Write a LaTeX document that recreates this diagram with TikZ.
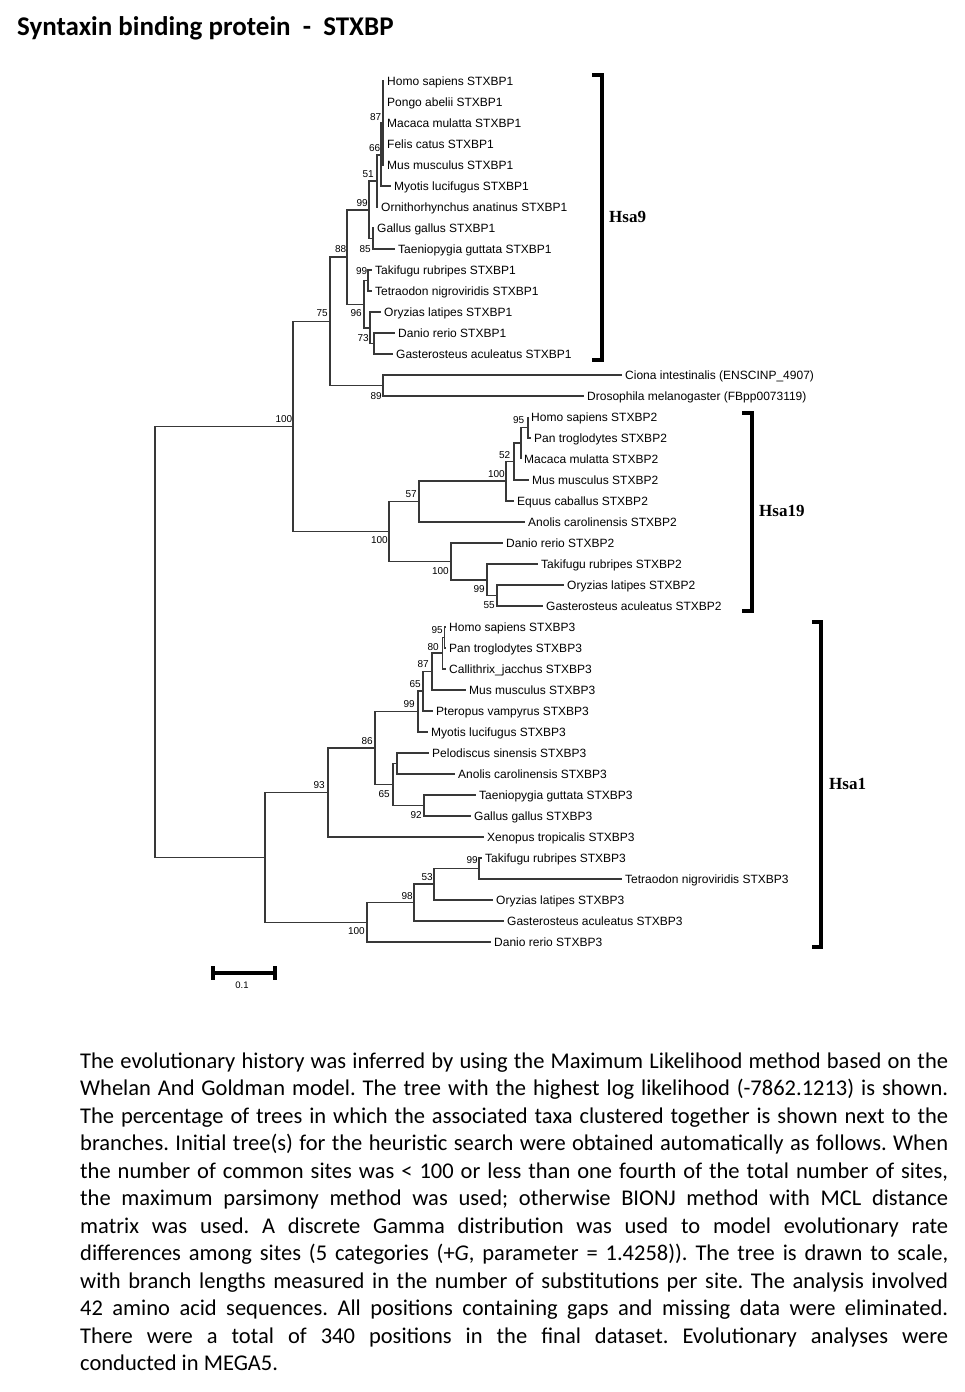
\documentclass[tikz,border=0pt]{standalone}
\usepackage{fontspec}
\setmainfont{Carlito}
\newfontfamily\arialf{Liberation Sans}
\newfontfamily\timesf{Liberation Serif}
\newcommand\leaffont{\arialf\fontsize{12}{14}\selectfont}
\newcommand\bsfont{\arialf\fontsize{10}{12}\selectfont}
\newcommand\grpfont{\timesf\bfseries\fontsize{17}{20}\selectfont}
\newcommand\capfont{\fontsize{22.5}{27.5}\selectfont\frenchspacing}
\tikzset{
  leaf/.style={anchor=west, inner xsep=3pt, inner ysep=0pt, text height=8.6pt, text depth=0pt, font=\leaffont},
  bs/.style={anchor=east, inner sep=0pt, font=\bsfont},
  br/.style={draw=black!78, line width=1.1pt},
  clade/.style={draw=black, line width=3.5pt, line cap=butt, line join=miter},
  grp/.style={anchor=west, inner sep=0pt, font=\grpfont},
  capline/.style={anchor=base west, inner sep=0pt, font=\capfont},
}
\begin{document}
\begin{tikzpicture}[x=1pt,y=-1pt]
\useasboundingbox[fill=white] (0,0) rectangle (964,1392);
% title
\node[anchor=base west, inner sep=0pt, font=\bfseries\fontsize{27}{32}\selectfont] (title) at (17,35.5) {Syntaxin binding protein\ \ -\ \ STXBP};

% ---------- leaves ----------
\node[leaf] (l0) at (384,81) {Homo sapiens STXBP1};
\node[leaf] (l1) at (384,102) {Pongo abelii STXBP1};
\node[leaf] (l2) at (384,123) {Macaca mulatta STXBP1};
\node[leaf] (l3) at (384,144) {Felis catus STXBP1};
\node[leaf] (l4) at (384,165) {Mus musculus STXBP1};
\node[leaf] (l5) at (391,186) {Myotis lucifugus STXBP1};
\node[leaf] (l6) at (378,207) {Ornithorhynchus anatinus STXBP1};
\node[leaf] (l7) at (374,228) {Gallus gallus STXBP1};
\node[leaf] (l8) at (395,249) {Taeniopygia guttata STXBP1};
\node[leaf] (l9) at (372,270) {Takifugu rubripes STXBP1};
\node[leaf] (l10) at (372,291) {Tetraodon nigroviridis STXBP1};
\node[leaf] (l11) at (381,312) {Oryzias latipes STXBP1};
\node[leaf] (l12) at (395,333) {Danio rerio STXBP1};
\node[leaf] (l13) at (393,354) {Gasterosteus aculeatus STXBP1};
\node[leaf] (l14) at (622,375) {Ciona intestinalis (ENSCINP\_4907)};
\node[leaf] (l15) at (584,396) {Drosophila melanogaster (FBpp0073119)};
\node[leaf] (l16) at (528,417) {Homo sapiens STXBP2};
\node[leaf] (l17) at (531,438) {Pan troglodytes STXBP2};
\node[leaf] (l18) at (521,459) {Macaca mulatta STXBP2};
\node[leaf] (l19) at (529,480) {Mus musculus STXBP2};
\node[leaf] (l20) at (514,501) {Equus caballus STXBP2};
\node[leaf] (l21) at (525,522) {Anolis carolinensis STXBP2};
\node[leaf] (l22) at (503,543) {Danio rerio STXBP2};
\node[leaf] (l23) at (538,564) {Takifugu rubripes STXBP2};
\node[leaf] (l24) at (564,585) {Oryzias latipes STXBP2};
\node[leaf] (l25) at (543,606) {Gasterosteus aculeatus STXBP2};
\node[leaf] (l26) at (446,627) {Homo sapiens STXBP3};
\node[leaf] (l27) at (446,648) {Pan troglodytes STXBP3};
\node[leaf] (l28) at (446,669) {Callithrix\_jacchus STXBP3};
\node[leaf] (l29) at (466,690) {Mus musculus STXBP3};
\node[leaf] (l30) at (433,711) {Pteropus vampyrus STXBP3};
\node[leaf] (l31) at (428,732) {Myotis lucifugus STXBP3};
\node[leaf] (l32) at (429,753) {Pelodiscus sinensis STXBP3};
\node[leaf] (l33) at (455,774) {Anolis carolinensis STXBP3};
\node[leaf] (l34) at (476,795) {Taeniopygia guttata STXBP3};
\node[leaf] (l35) at (471,816) {Gallus gallus STXBP3};
\node[leaf] (l36) at (484,837) {Xenopus tropicalis STXBP3};
\node[leaf] (l37) at (482,858) {Takifugu rubripes STXBP3};
\node[leaf] (l38) at (622,879) {Tetraodon nigroviridis STXBP3};
\node[leaf] (l39) at (493,900) {Oryzias latipes STXBP3};
\node[leaf] (l40) at (504,921) {Gasterosteus aculeatus STXBP3};
\node[leaf] (l41) at (491,942) {Danio rerio STXBP3};

% ---------- internal nodes ----------
\coordinate (n87) at (383,123);
\coordinate (n66) at (381,155);
\coordinate (n51) at (377,181);
\coordinate (n85) at (373,238.5);
\coordinate (n99a) at (369,210);
\coordinate (n99b) at (368,280.5);
\coordinate (n73b) at (374,343.5);
\coordinate (n73) at (370,328);
\coordinate (n96) at (364,304.5);
\coordinate (n88) at (347,257);
\coordinate (n89) at (383,385.5);
\coordinate (n75) at (330,321.5);
\coordinate (n95a) at (528,427.5);
\coordinate (nX) at (521,443);
\coordinate (n52) at (514,461.5);
\coordinate (n100c) at (506,481);
\coordinate (n57) at (419,501.5);
\coordinate (n55) at (497,595.5);
\coordinate (n99c) at (487,580);
\coordinate (n100b) at (451,561.5);
\coordinate (n100a) at (389,531.5);
\coordinate (n100t) at (293,426.5);
\coordinate (n95b) at (444.5,637.5);
\coordinate (n80) at (442.5,653);
\coordinate (n87b) at (432,671.5);
\coordinate (n65a) at (423,691);
\coordinate (n99d) at (418,711.5);
\coordinate (npa) at (397,763.5);
\coordinate (n92) at (424,805.5);
\coordinate (n65b) at (393,784.5);
\coordinate (n86) at (375,748);
\coordinate (n93) at (328,792.5);
\coordinate (n99e) at (479,868.5);
\coordinate (n53) at (434,884);
\coordinate (n98) at (414,902.5);
\coordinate (n100d) at (367,922.5);
\coordinate (n265) at (265,857.5);
\coordinate (root) at (155,642);

% ---------- branches ----------
\begin{scope}[br]
\foreach \c in {l0,l1,l2,l3,l4} \draw (n87) |- (\c.west);
\draw (n66) |- (n87); \draw (n66) |- (l5.west);
\draw (n51) |- (n66); \draw (n51) |- (l6.west);
\draw (n85) |- (l7.west); \draw (n85) |- (l8.west);
\draw (n99a) |- (n51); \draw (n99a) |- (n85);
\draw (n99b) |- (l9.west); \draw (n99b) |- (l10.west);
\draw (n73b) |- (l12.west); \draw (n73b) |- (l13.west);
\draw (n73) |- (l11.west); \draw (n73) |- (n73b);
\draw (n96) |- (n99b); \draw (n96) |- (n73);
\draw (n88) |- (n99a); \draw (n88) |- (n96);
\draw (n89) |- (l14.west); \draw (n89) |- (l15.west);
\draw (n75) |- (n88); \draw (n75) |- (n89);
\draw (n95a) |- (l16.west); \draw (n95a) |- (l17.west);
\draw (nX) |- (n95a); \draw (nX) |- (l18.west);
\draw (n52) |- (nX); \draw (n52) |- (l19.west);
\draw (n100c) |- (n52); \draw (n100c) |- (l20.west);
\draw (n57) |- (n100c); \draw (n57) |- (l21.west);
\draw (n55) |- (l24.west); \draw (n55) |- (l25.west);
\draw (n99c) |- (l23.west); \draw (n99c) |- (n55);
\draw (n100b) |- (l22.west); \draw (n100b) |- (n99c);
\draw (n100a) |- (n57); \draw (n100a) |- (n100b);
\draw (n100t) |- (n75); \draw (n100t) |- (n100a);
\draw (n95b) |- (l26.west); \draw (n95b) |- (l27.west);
\draw (n80) |- (n95b); \draw (n80) |- (l28.west);
\draw (n87b) |- (n80); \draw (n87b) |- (l29.west);
\draw (n65a) |- (n87b); \draw (n65a) |- (l30.west);
\draw (n99d) |- (n65a); \draw (n99d) |- (l31.west);
\draw (npa) |- (l32.west); \draw (npa) |- (l33.west);
\draw (n92) |- (l34.west); \draw (n92) |- (l35.west);
\draw (n65b) |- (npa); \draw (n65b) |- (n92);
\draw (n86) |- (n99d); \draw (n86) |- (n65b);
\draw (n93) |- (n86); \draw (n93) |- (l36.west);
\draw (n99e) |- (l37.west); \draw (n99e) |- (l38.west);
\draw (n53) |- (n99e); \draw (n53) |- (l39.west);
\draw (n98) |- (n53); \draw (n98) |- (l40.west);
\draw (n100d) |- (n98); \draw (n100d) |- (l41.west);
\draw (n265) |- (n93); \draw (n265) |- (n100d);
\draw (root) |- (n100t); \draw (root) |- (n265);
\end{scope}

% ---------- bootstrap values ----------
\node[bs] (b87) at (381.5,117) {87};
\node[bs] (b66) at (380.5,148) {66};
\node[bs] (b51) at (374,174) {51};
\node[bs] (b99a) at (368,203) {99};
\node[bs] (b88) at (346.5,249) {88};
\node[bs] (b85) at (371,249) {85};
\node[bs] (b99b) at (367.5,271) {99};
\node[bs] (b96) at (362,313) {96};
\node[bs] (b73) at (369,338) {73};
\node[bs] (b75) at (328,313) {75};
\node[bs] (b89) at (382,396) {89};
\node[bs] (b100t) at (292.5,419) {100};
\node[bs] (b95a) at (524.5,420) {95};
\node[bs] (b52) at (510.5,455) {52};
\node[bs] (b100c) at (505,474) {100};
\node[bs] (b57) at (417,494) {57};
\node[bs] (b100a) at (388,540) {100};
\node[bs] (b100b) at (449,571) {100};
\node[bs] (b99c) at (485,589) {99};
\node[bs] (b55) at (495,605) {55};
\node[bs] (b95b) at (443,630) {95};
\node[bs] (b80) at (439,647) {80};
\node[bs] (b87b) at (429,664) {87};
\node[bs] (b65a) at (421,684) {65};
\node[bs] (b99d) at (415,704) {99};
\node[bs] (b86) at (373,741) {86};
\node[bs] (b93) at (325,785) {93};
\node[bs] (b65b) at (390,794) {65};
\node[bs] (b92) at (422,815) {92};
\node[bs] (b99e) at (478,860) {99};
\node[bs] (b53) at (433,877) {53};
\node[bs] (b98) at (413,896) {98};
\node[bs] (b100d) at (365,931) {100};

% ---------- group brackets ----------
\draw[clade] (592,75) -- (602,75) -- (602,360) -- (592,360);
\node[grp] (g9) at (609,217) {Hsa9};
\draw[clade] (742,413) -- (752,413) -- (752,611) -- (742,611);
\node[grp] (g19) at (759,511) {Hsa19};
\draw[clade] (812,622) -- (821,622) -- (821,947) -- (812,947);
\node[grp] (g1) at (829,784) {Hsa1};

% ---------- scale bar ----------
\coordinate (sbL) at (213,972.5);
\coordinate (sbR) at (275,972.5);
\draw[line width=4pt] (sbL) -- (sbR);
\draw[line width=3.5pt] ([yshift=-7pt]sbL) -- ([yshift=7pt]sbL);
\draw[line width=3.5pt] ([yshift=-7pt]sbR) -- ([yshift=7pt]sbR);
\node[inner sep=0pt, font=\arialf\fontsize{9.5}{11}\selectfont] (sbt) at (242,985) {0.1};

% ---------- caption ----------
\node[capline] (c1) at (80,1068) {\makebox[868pt][s]{The evolutionary history was inferred by using the Maximum Likelihood method based on the}};
\node[capline] (c2) at (80,1095.5) {\makebox[868pt][s]{Whelan And Goldman model. The tree with the highest log likelihood (-7862.1213) is shown.}};
\node[capline] (c3) at (80,1123) {\makebox[868pt][s]{The percentage of trees in which the associated taxa clustered together is shown next to the}};
\node[capline] (c4) at (80,1150.5) {\makebox[868pt][s]{branches. Initial tree(s) for the heuristic search were obtained automatically as follows. When}};
\node[capline] (c5) at (80,1178) {\makebox[868pt][s]{the number of common sites was < 100 or less than one fourth of the total number of sites,}};
\node[capline] (c6) at (80,1205.5) {\makebox[868pt][s]{the maximum parsimony method was used; otherwise BIONJ method with MCL distance}};
\node[capline] (c7) at (80,1233) {\makebox[868pt][s]{matrix was used. A discrete Gamma distribution was used to model evolutionary rate}};
\node[capline] (c8) at (80,1260.5) {\makebox[868pt][s]{differences among sites (5 categories (+\textit{G}, parameter = 1.4258)). The tree is drawn to scale,}};
\node[capline] (c9) at (80,1288) {\makebox[868pt][s]{with branch lengths measured in the number of substitutions per site. The analysis involved}};
\node[capline] (c10) at (80,1315.5) {\makebox[868pt][s]{42 amino acid sequences. All positions containing gaps and missing data were eliminated.}};
\node[capline] (c11) at (80,1343) {\makebox[868pt][s]{There were a total of 340 positions in the final dataset. Evolutionary analyses were}};
\node[capline] (c12) at (80,1370.5) {conducted in MEGA5.};
\end{tikzpicture}
\end{document}
